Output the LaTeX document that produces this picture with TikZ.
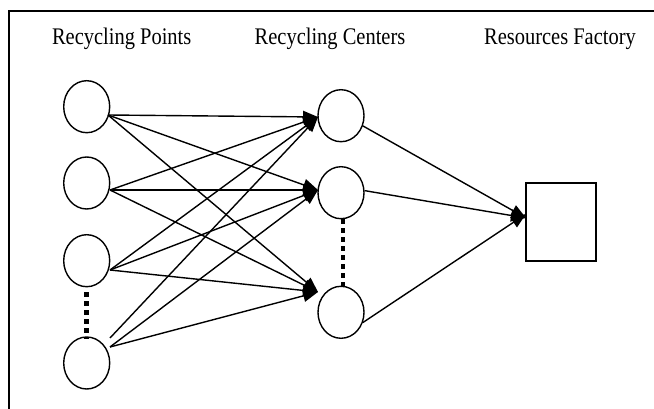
\documentclass[tikz,border=0pt]{standalone}
\usepackage{fontspec}
\setmainfont{Liberation Serif}
\newfontfamily\hdfont[FakeStretch=0.86]{Liberation Serif}
\usetikzlibrary{shapes.geometric,arrows.meta}
\begin{document}
\begin{tikzpicture}[x=1pt,y=-1pt,
  pt/.style={draw,ellipse,line width=1.4pt,minimum width=46pt,minimum height=52pt,inner sep=0pt},
  fac/.style={draw,rectangle,line width=1.4pt,minimum width=70pt,minimum height=78pt,inner sep=0pt},
  conn/.style={line width=1.4pt,-{Triangle[length=15pt,width=12pt]}},
  dots/.style={line width=4.5pt,dash pattern=on 4.5pt off 4.5pt},
  lbl/.style={font=\hdfont\fontsize{23.8}{28}\selectfont,anchor=base,inner sep=0pt}]
\useasboundingbox (0,0) rectangle (654,409);
\begin{scope}
\clip (0,0) rectangle (654,409);
\draw[line width=2pt] (9,11) rectangle (700,460);
\end{scope}
\node[lbl] (h1) at (121.7,44.3) {Recycling Points};
\node[lbl] (h2) at (330,44.3) {Recycling Centers};
\node[lbl] (h3) at (560,44.3) {Resources Factory};
% recycling points
\node[pt] (p1) at (86.7,106.7) {};
\node[pt] (p2) at (86.7,183) {};
\node[pt] (p3) at (86.7,260.7) {};
\node[pt] (p4) at (86.7,363) {};
% recycling centers
\node[pt] (c1) at (341,115.7) {};
\node[pt] (c2) at (341,192.7) {};
\node[pt] (c3) at (341,312.3) {};
% factory
\node[fac] (f) at (561,222) {};
% start and end points
\coordinate (o1) at (108,115);
\coordinate (o2) at (110,190);
\coordinate (o3) at (110,270);
\coordinate (o4a) at (110,338);
\coordinate (o4b) at (110,347);
\coordinate (t1) at (318,117);
\coordinate (t2) at (318,190);
\coordinate (t3) at (318,292);
\coordinate (tf) at (526,218);
% dotted
\draw[dots] (p3.south) ++(0,5) coordinate (d1) -- ([yshift=-3pt]p4.north) coordinate (d2);
\draw[dots] (c2.south) ++(2,0) coordinate (d3) -- ([xshift=2pt,yshift=-5pt]c3.north) coordinate (d4);
% connectors
\foreach \s in {o1,o2,o3,o4a}{\draw[conn] (\s) -- (t1);}
\foreach \s in {o1,o2,o3,o4b}{\draw[conn] (\s) -- (t2);}
\foreach \s in {o1,o2,o3,o4b}{\draw[conn] (\s) -- (t3);}
\draw[conn] (c1.-25) -- (tf);
\draw[conn] (c2.5) -- (tf);
\draw[conn] (c3.-25) -- ([yshift=4pt]tf);
\end{tikzpicture}
\end{document}
